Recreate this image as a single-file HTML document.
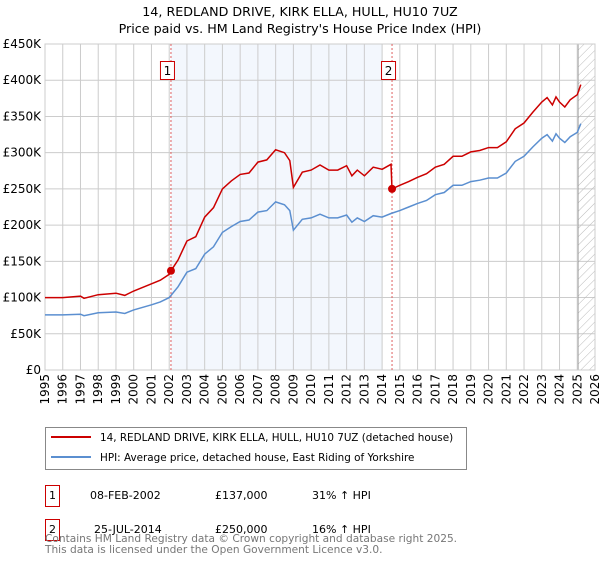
<!DOCTYPE html>
<html><head><meta charset="utf-8"><style>
body{margin:0;background:#fff;font-family:"DejaVu Sans","Liberation Sans",sans-serif;}
svg text{font-family:"DejaVu Sans","Liberation Sans",sans-serif;}
</style></head><body>
<svg id="c" width="600" height="560" xmlns="http://www.w3.org/2000/svg">
<defs><pattern id="hatch" width="6" height="6" patternUnits="userSpaceOnUse" patternTransform="rotate(45)"><line x1="0" y1="0" x2="0" y2="6" stroke="#bbb" stroke-width="1"/></pattern></defs>
<text x="300" y="16" text-anchor="middle" font-size="12.7">14, REDLAND DRIVE, KIRK ELLA, HULL, HU10 7UZ</text>
<text x="300" y="33" text-anchor="middle" font-size="12.7">Price paid vs. HM Land Registry's House Price Index (HPI)</text>
<g id="plot"></g>
<g>
<rect x="45.5" y="427.5" width="421" height="42" fill="#fff" stroke="#888"/>
<line x1="51" y1="437" x2="91" y2="437" stroke="#cc0000" stroke-width="2"/>
<text x="100" y="441" font-size="10.4">14, REDLAND DRIVE, KIRK ELLA, HULL, HU10 7UZ (detached house)</text>
<line x1="51" y1="457" x2="91" y2="457" stroke="#5b8fd0" stroke-width="2"/>
<text x="100" y="461" font-size="10.4">HPI: Average price, detached house, East Riding of Yorkshire</text>
</g>
<g font-size="11">
<rect x="45.5" y="485.5" width="14" height="21" fill="none" stroke="#cc0000"/><text x="52.5" y="499" text-anchor="middle">1</text>
<text x="90" y="499">08-FEB-2002</text><text x="215" y="499">£137,000</text><text x="312" y="499">31% ↑ HPI</text>
<rect x="45.5" y="519.5" width="14" height="21" fill="none" stroke="#cc0000"/><text x="52.5" y="533" text-anchor="middle">2</text>
<text x="94" y="533">25-JUL-2014</text><text x="215" y="533">£250,000</text><text x="312" y="533">16% ↑ HPI</text>
</g>
<text x="45" y="542" font-size="10.6" fill="#777">Contains HM Land Registry data © Crown copyright and database right 2025.</text>
<text x="45" y="553" font-size="10.6" fill="#777">This data is licensed under the Open Government Licence v3.0.</text>
</svg>
<script>
const yTicks=[0,50,100,150,200,250,300,350,400,450];
const yTickLabels=["£0","£50K","£100K","£150K","£200K","£250K","£300K","£350K","£400K","£450K"];
const years=[1995,1996,1997,1998,1999,2000,2001,2002,2003,2004,2005,2006,2007,2008,2009,2010,2011,2012,2013,2014,2015,2016,2017,2018,2019,2020,2021,2022,2023,2024,2025,2026];
const hpiX=[1995,1996,1997,1997.2,1998,1999,1999.5,2000,2001,2001.5,2002,2002.5,2003,2003.5,2004,2004.5,2005,2005.5,2006,2006.5,2007,2007.5,2008,2008.5,2008.8,2009,2009.5,2010,2010.5,2011,2011.5,2012,2012.3,2012.6,2013,2013.5,2014,2014.5,2015,2015.5,2016,2016.5,2017,2017.5,2018,2018.5,2019,2019.5,2020,2020.5,2021,2021.5,2022,2022.5,2023,2023.3,2023.6,2023.8,2024,2024.3,2024.6,2025,2025.2];
const hpiY=[76,76,77,75,79,80,78,83,90,94,100,115,135,140,160,170,190,198,205,207,218,220,232,228,220,193,208,210,215,210,210,214,204,210,205,213,211,216,220,225,230,234,242,245,255,255,260,262,265,265,272,288,295,308,320,325,316,326,320,314,322,328,340];
const priceX=[1995,1996,1997,1997.2,1998,1999,1999.5,2000,2001,2001.5,2002,2002.1,2002.5,2003,2003.5,2004,2004.5,2005,2005.5,2006,2006.5,2007,2007.5,2008,2008.5,2008.8,2009,2009.5,2010,2010.5,2011,2011.5,2012,2012.3,2012.6,2013,2013.5,2014,2014.5,2014.56,2015,2015.5,2016,2016.5,2017,2017.5,2018,2018.5,2019,2019.5,2020,2020.5,2021,2021.5,2022,2022.5,2023,2023.3,2023.6,2023.8,2024,2024.3,2024.6,2025,2025.2];
const priceY=[100,100,102,99,104,106,103,109,119,124,132,137,152,178,184,211,224,250,261,270,272,287,290,304,300,289,252,273,276,283,276,276,282,268,276,268,280,277,284,250,255,260,266,271,280,284,295,295,301,303,307,307,315,333,341,356,370,376,366,377,370,363,373,380,394];
const salesX=[2002.1,2014.56];
const salesY=[137,250];
const saleLabels=["1","2"];
const shadeRange=[2002.1,2014.0];
const hatchStart=2025.05;

const L=45,R=595,T=44,B=370,x0=1995,x1=2026,yMax=450;
const sx=v=>L+(v-x0)/(x1-x0)*(R-L);
const sy=v=>B-v/yMax*(B-T);
const NS="http://www.w3.org/2000/svg";
const g=document.getElementById('plot');
function mk(t,a,p){const e=document.createElementNS(NS,t);for(const k in a)e.setAttribute(k,a[k]);(p||g).appendChild(e);return e;}
let e=mk('rect',{x:sx(shadeRange[0]),y:T,width:sx(shadeRange[1])-sx(shadeRange[0]),height:B-T,fill:'#eef3fc',opacity:0.7});


years.forEach(yr=>{const l=mk('line',{x1:sx(yr),x2:sx(yr),y1:T,y2:B,stroke:'#ccc','stroke-width':1});


const t=mk('text',{x:0,y:0,'font-size':12,'text-anchor':'end',transform:`translate(${sx(yr)+4},${B+4}) rotate(-90)`});t.textContent=yr;

});
yTicks.forEach((v,i)=>{const l=mk('line',{x1:L,x2:R,y1:sy(v),y2:sy(v),stroke:'#ccc','stroke-width':1});


const t=mk('text',{x:L-4,y:sy(v)+4,'font-size':12,'text-anchor':'end'});t.textContent=yTickLabels[i];

});
e=mk('rect',{x:sx(hatchStart),y:T,width:R-sx(hatchStart),height:B-T,fill:'url(#hatch)',stroke:'#999','stroke-width':0.8});


mk('rect',{x:L,y:T,width:R-L,height:B-T,fill:'none',stroke:'#ccc'});
salesX.forEach((sxv,i)=>{const l=mk('line',{x1:sx(sxv),x2:sx(sxv),y1:T,y2:B,stroke:'#e06060','stroke-dasharray':'2,2','stroke-width':1});


const bx=mk('rect',{x:sx(sxv)-10.5,y:61.5,width:14,height:18,fill:'#fff',stroke:'#cc0000'});


const t=mk('text',{x:sx(sxv)-3.5,y:75,'font-size':12,'text-anchor':'middle'});t.textContent=saleLabels[i];

});
const path=(X,Y)=>X.map((v,i)=>(i?'L':'M')+sx(v).toFixed(1)+','+sy(Y[i]).toFixed(1)).join('');
e=mk('path',{d:path(hpiX,hpiY),fill:'none',stroke:'#5b8fd0','stroke-width':1.5});


e=mk('path',{d:path(priceX,priceY),fill:'none',stroke:'#cc0000','stroke-width':1.5});


salesX.forEach((v,i)=>{const c=mk('circle',{cx:sx(v),cy:sy(salesY[i]),r:4,fill:'#cc0000'});

});
</script>
</body></html>
